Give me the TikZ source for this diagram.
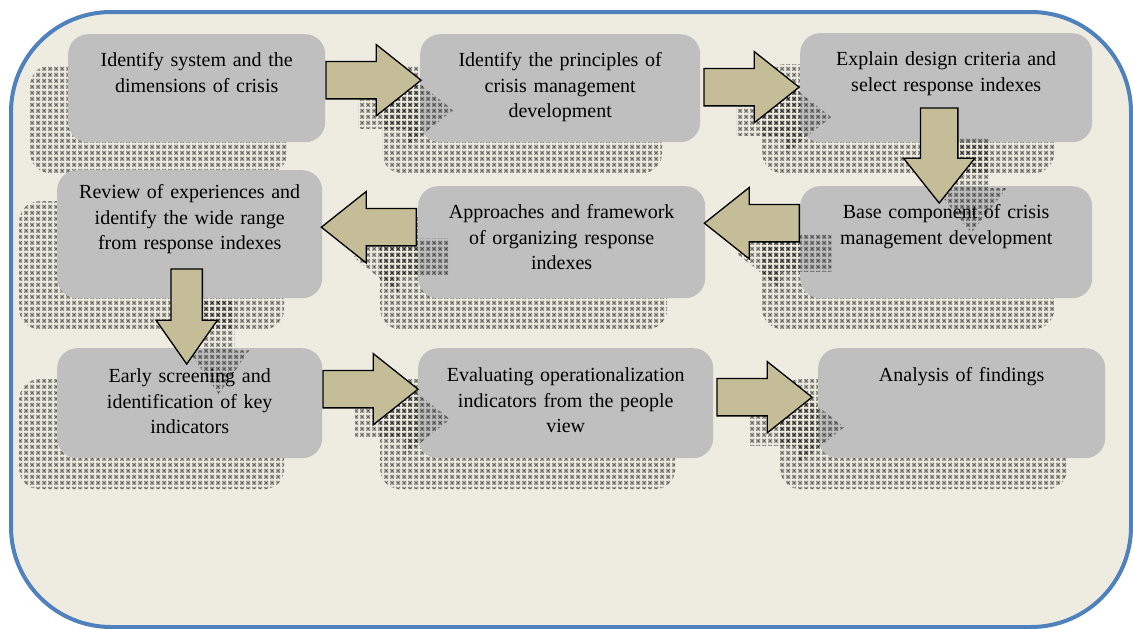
\documentclass[tikz,border=0pt]{standalone}
\usepackage{fontspec}
\setmainfont{Liberation Serif}
\usepackage{tikz}
\usetikzlibrary{shapes,shadows,arrows,patterns,calc}

\definecolor{pagebg}{HTML}{EEECE1}
\definecolor{frameblue}{HTML}{4F81BD}
\definecolor{boxgray}{HTML}{BFBFBF}
\definecolor{arrowtan}{HTML}{C4BD97}

\pgfdeclarepatternformonly{meshx}{\pgfqpoint{0pt}{0pt}}{\pgfqpoint{6pt}{6pt}}{\pgfqpoint{6pt}{6pt}}{%
  \pgfpathrectangle{\pgfqpoint{0pt}{0pt}}{\pgfqpoint{0.8pt}{0.8pt}}%
  \pgfpathrectangle{\pgfqpoint{2pt}{0pt}}{\pgfqpoint{0.8pt}{0.8pt}}%
  \pgfpathrectangle{\pgfqpoint{4pt}{0pt}}{\pgfqpoint{0.8pt}{0.8pt}}%
  \pgfpathrectangle{\pgfqpoint{0pt}{2pt}}{\pgfqpoint{0.8pt}{0.8pt}}%
  \pgfpathrectangle{\pgfqpoint{4pt}{2pt}}{\pgfqpoint{0.8pt}{0.8pt}}%
  \pgfpathrectangle{\pgfqpoint{0pt}{4pt}}{\pgfqpoint{0.8pt}{0.8pt}}%
  \pgfpathrectangle{\pgfqpoint{2pt}{4pt}}{\pgfqpoint{0.8pt}{0.8pt}}%
  \pgfpathrectangle{\pgfqpoint{4pt}{4pt}}{\pgfqpoint{0.8pt}{0.8pt}}%
  \pgfusepath{fill}%
  \pgfsetlinewidth{0.35pt}%
  \pgfpathmoveto{\pgfqpoint{1.3pt}{1.3pt}}\pgflineto{\pgfqpoint{3.7pt}{3.7pt}}%
  \pgfpathmoveto{\pgfqpoint{1.3pt}{3.7pt}}\pgflineto{\pgfqpoint{3.7pt}{1.3pt}}%
  \pgfusepath{stroke}%
}

\tikzstyle{frame} = [draw=frameblue, line width=4pt, fill=pagebg, rounded corners=100pt]
\tikzstyle{stage} = [rectangle, fill=boxgray, rounded corners=20pt, anchor=north west, align=center, inner sep=0pt, text height=32pt, font=\fontsize{20}{25.8}\selectfont, general shadow={shadow xshift=-38pt, shadow yshift=-31pt, pattern=meshx, draw=none}]
\tikzstyle{flow} = [single arrow, draw, line width=1.3pt, fill=arrowtan, anchor=tail, minimum height=95pt, inner xsep=0pt, inner ysep=18pt, single arrow head extend=17pt, single arrow tip angle=77, general shadow={shadow xshift=32pt, shadow yshift=-30pt, pattern=meshx, draw=none}]
\tikzstyle{flow_down} = [flow, shape border rotate=270, inner xsep=18pt, inner ysep=0pt]

\begin{document}
\begin{tikzpicture}[x=1pt, y=-1pt]
		\useasboundingbox (0,0) rectangle (1133,629);
		\draw[frame] (11,12) rectangle (1131,627);

		\node[stage, text width=257pt, text depth=76pt] (stage_1) at (68,34) {Identify system and the\\dimensions of crisis};
		\node[stage, text width=280pt, text depth=76pt] (stage_2) at (420,34) {Identify the principles of\\crisis management\\development};
		\node[stage, text width=292pt, text depth=77pt] (stage_3) at (800,33) {Explain design criteria and\\select response indexes};

		\node[stage, text width=292pt, text depth=80pt] (stage_4) at (800,186) {Base component of crisis\\management development};
		\node[stage, text width=287pt, text depth=80pt] (stage_5) at (418,186) {Approaches and framework\\of organizing response\\indexes};
		\node[stage, text width=265pt, text height=28pt, text depth=100pt] (stage_6) at (57,170) {Review of experiences and\\identify the wide range\\from response indexes};

		\node[stage, text width=265pt, text height=34pt, text depth=76pt] (stage_7) at (57,348) {Early screening and\\identification of key\\indicators};
		\node[stage, text width=295pt, text height=33pt, text depth=77pt] (stage_8) at (418,348) {Evaluating operationalization\\indicators from the people\\view};
		\node[stage, text width=287pt, text height=33pt, text depth=77pt] (stage_9) at (818,348) {Analysis of findings};

		\node[flow] (arr_1) at ($(stage_1.east)+(0,-8)$) {};
		\node[flow] (arr_2) at ($(stage_2.east)+(3,-1)$) {};
		\node[flow_down] (arr_3) at ($(stage_3.south)+(-7,-35)$) {};
		\node[flow, shape border rotate=180] (arr_4) at ($(stage_4.west)+(0,-19)$) {};
		\node[flow, shape border rotate=180] (arr_5) at ($(stage_5.west)+(-1,-15)$) {};
		\node[flow_down, inner xsep=15pt, single arrow head extend=15pt, single arrow tip angle=70] (arr_6) at ($(stage_6.south)+(-3,-30)$) {};
		\node[flow] (arr_7) at ($(stage_7.east)+(0,-14)$) {};
		\node[flow] (arr_8) at ($(stage_8.east)+(3,-6)$) {};
	\end{tikzpicture}
\end{document}
